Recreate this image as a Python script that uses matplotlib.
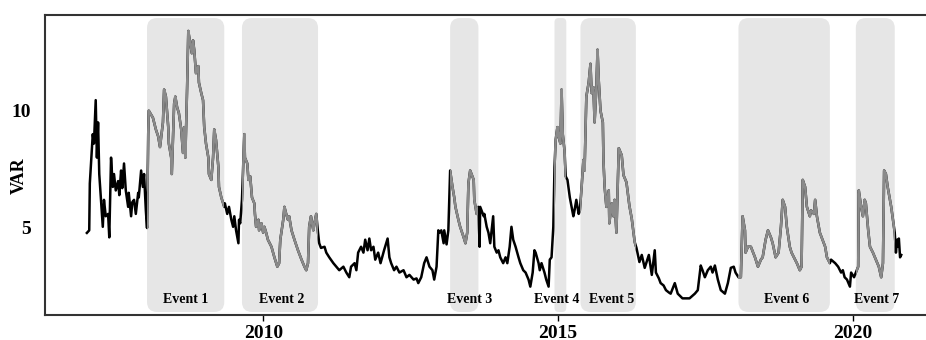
import matplotlib
matplotlib.use("Agg")
import matplotlib.pyplot as plt
from matplotlib.patches import FancyBboxPatch, Rectangle

plt.rcParams["font.family"] = ["Liberation Serif", "DejaVu Serif"]
plt.rcParams["font.weight"] = "bold"

# decimal year / VAR level
t = [
    2007.01, 2007.05, 2007.06, 2007.11, 2007.13, 2007.16, 2007.18, 2007.20, 2007.22, 2007.25,
    2007.28, 2007.30, 2007.33, 2007.37, 2007.39, 2007.42, 2007.45, 2007.47, 2007.50, 2007.54,
    2007.56, 2007.59, 2007.61, 2007.64, 2007.67, 2007.71, 2007.72, 2007.76, 2007.78, 2007.81,
    2007.84, 2007.88, 2007.89, 2007.93, 2007.96, 2007.98, 2008.01, 2008.03, 2008.05, 2008.06,
    2008.13, 2008.18, 2008.22, 2008.25, 2008.30, 2008.32, 2008.35, 2008.39, 2008.40, 2008.44,
    2008.45, 2008.49, 2008.51, 2008.54, 2008.57, 2008.61, 2008.64, 2008.66, 2008.68, 2008.69,
    2008.71, 2008.73, 2008.76, 2008.79, 2008.81, 2008.83, 2008.86, 2008.90, 2008.91, 2008.95,
    2008.98, 2009.00, 2009.03, 2009.07, 2009.08, 2009.12, 2009.15, 2009.17, 2009.20, 2009.24,
    2009.25, 2009.29, 2009.34, 2009.35, 2009.39, 2009.42, 2009.46, 2009.49, 2009.51, 2009.54,
    2009.58, 2009.59, 2009.61, 2009.63, 2009.64, 2009.68, 2009.69, 2009.73, 2009.75, 2009.78,
    2009.81, 2009.85, 2009.86, 2009.88, 2009.92, 2009.93, 2009.97, 2010.00, 2010.02, 2010.05,
    2010.08, 2010.14, 2010.19, 2010.24, 2010.27, 2010.29, 2010.34, 2010.36, 2010.39, 2010.42,
    2010.44, 2010.48, 2010.53, 2010.59, 2010.65, 2010.70, 2010.73, 2010.76, 2010.78, 2010.81,
    2010.85, 2010.87, 2010.90, 2010.93, 2010.95, 2010.98, 2011.04, 2011.07, 2011.12, 2011.19,
    2011.24, 2011.29, 2011.36, 2011.41, 2011.46, 2011.49, 2011.55, 2011.58, 2011.61, 2011.66,
    2011.70, 2011.73, 2011.77, 2011.80, 2011.83, 2011.87, 2011.90, 2011.95, 2011.99, 2012.04,
    2012.05, 2012.11, 2012.14, 2012.17, 2012.22, 2012.26, 2012.31, 2012.38, 2012.43, 2012.48,
    2012.55, 2012.60, 2012.63, 2012.68, 2012.73, 2012.77, 2012.82, 2012.87, 2012.90, 2012.94,
    2012.97, 2012.99, 2013.02, 2013.06, 2013.07, 2013.11, 2013.14, 2013.17, 2013.21, 2013.24,
    2013.26, 2013.31, 2013.34, 2013.40, 2013.43, 2013.46, 2013.48, 2013.51, 2013.57, 2013.58,
    2013.62, 2013.65, 2013.67, 2013.68, 2013.74, 2013.75, 2013.79, 2013.82, 2013.85, 2013.90,
    2013.92, 2013.96, 2013.99, 2014.02, 2014.07, 2014.11, 2014.14, 2014.18, 2014.21, 2014.24,
    2014.28, 2014.33, 2014.36, 2014.41, 2014.45, 2014.50, 2014.53, 2014.57, 2014.60, 2014.62,
    2014.67, 2014.69, 2014.72, 2014.77, 2014.80, 2014.84, 2014.86, 2014.89, 2014.92, 2014.94,
    2014.96, 2014.99, 2015.01, 2015.04, 2015.06, 2015.08, 2015.11, 2015.13, 2015.16, 2015.20,
    2015.23, 2015.26, 2015.28, 2015.31, 2015.35, 2015.37, 2015.40, 2015.43, 2015.45, 2015.48,
    2015.52, 2015.55, 2015.57, 2015.60, 2015.62, 2015.65, 2015.67, 2015.69, 2015.72, 2015.76,
    2015.77, 2015.79, 2015.82, 2015.86, 2015.87, 2015.91, 2015.94, 2015.96, 2015.99, 2016.03,
    2016.08, 2016.11, 2016.16, 2016.21, 2016.25, 2016.30, 2016.33, 2016.38, 2016.42, 2016.47,
    2016.54, 2016.59, 2016.64, 2016.66, 2016.71, 2016.74, 2016.79, 2016.83, 2016.88, 2016.91,
    2016.98, 2017.03, 2017.11, 2017.15, 2017.23, 2017.32, 2017.37, 2017.42, 2017.45, 2017.49,
    2017.54, 2017.59, 2017.62, 2017.66, 2017.71, 2017.76, 2017.83, 2017.88, 2017.93, 2017.98,
    2018.01, 2018.06, 2018.10, 2018.13, 2018.17, 2018.18, 2018.22, 2018.27, 2018.34, 2018.39,
    2018.44, 2018.47, 2018.52, 2018.56, 2018.61, 2018.64, 2018.69, 2018.74, 2018.78, 2018.81,
    2018.85, 2018.88, 2018.93, 2018.96, 2019.02, 2019.05, 2019.10, 2019.13, 2019.15, 2019.19,
    2019.22, 2019.27, 2019.29, 2019.34, 2019.36, 2019.39, 2019.44, 2019.47, 2019.53, 2019.56,
    2019.61, 2019.63, 2019.70, 2019.75, 2019.80, 2019.83, 2019.86, 2019.90, 2019.95, 2019.97,
    2020.02, 2020.05, 2020.09, 2020.10, 2020.14, 2020.17, 2020.20, 2020.22, 2020.26, 2020.29,
    2020.34, 2020.39, 2020.44, 2020.48, 2020.51, 2020.53, 2020.56, 2020.59, 2020.65, 2020.68,
    2020.71, 2020.73, 2020.75, 2020.76, 2020.78, 2020.80, 2020.82,
]
var = [
    4.79, 4.90, 6.90, 9.00, 8.60, 10.45, 8.00, 9.50, 7.30, 6.20,
    5.05, 6.20, 5.50, 5.60, 4.60, 8.00, 6.75, 7.30, 6.60, 7.00,
    6.40, 7.45, 6.70, 7.75, 6.60, 5.90, 6.50, 5.50, 6.10, 6.20,
    5.60, 6.50, 6.30, 7.45, 6.75, 7.30, 5.75, 5.00, 9.00, 10.00,
    9.70, 9.20, 8.90, 8.45, 9.50, 10.90, 10.60, 9.30, 8.60, 8.00,
    7.30, 10.30, 10.60, 10.15, 9.90, 9.20, 8.20, 9.30, 8.00, 9.00,
    11.00, 13.40, 12.90, 12.45, 13.00, 12.60, 11.60, 11.90, 11.20, 10.75,
    10.45, 9.30, 8.60, 8.00, 7.30, 7.05, 8.00, 9.20, 8.75, 7.60,
    6.75, 6.30, 5.90, 6.05, 5.60, 5.90, 5.35, 5.05, 5.50, 4.90,
    4.35, 5.35, 5.20, 5.90, 6.20, 9.00, 8.00, 7.75, 7.05, 7.20,
    6.30, 6.05, 5.60, 5.05, 5.35, 4.90, 5.20, 4.80, 5.05, 4.80,
    4.50, 4.20, 3.75, 3.35, 3.50, 4.50, 5.35, 5.90, 5.60, 5.35,
    5.50, 4.90, 4.50, 4.05, 3.65, 3.35, 3.20, 3.50, 5.05, 5.50,
    4.90, 5.20, 5.60, 4.80, 4.35, 4.15, 4.20, 3.95, 3.75, 3.50,
    3.35, 3.20, 3.35, 3.10, 2.90, 3.35, 3.50, 3.20, 3.95, 4.20,
    3.95, 4.50, 4.05, 4.55, 4.05, 4.20, 3.65, 3.95, 3.50, 3.95,
    4.05, 4.55, 3.75, 3.50, 3.20, 3.35, 3.10, 3.20, 2.90, 3.00,
    2.80, 2.85, 2.65, 2.90, 3.50, 3.75, 3.35, 3.20, 2.80, 3.35,
    4.90, 4.80, 4.90, 4.35, 4.90, 4.30, 4.90, 7.45, 6.75, 6.30,
    5.90, 5.35, 5.05, 4.60, 4.35, 4.80, 6.90, 7.45, 7.05, 6.20,
    5.60, 5.90, 4.20, 5.90, 5.50, 5.60, 5.05, 4.80, 4.35, 5.50,
    4.20, 3.95, 4.05, 3.75, 3.50, 3.75, 3.50, 4.20, 5.05, 4.50,
    4.20, 3.75, 3.50, 3.20, 3.10, 2.80, 2.50, 3.10, 4.05, 3.95,
    3.50, 3.20, 3.50, 3.10, 2.80, 2.50, 3.65, 3.75, 5.05, 7.60,
    8.75, 9.30, 8.90, 8.60, 10.90, 9.00, 8.30, 7.20, 7.05, 6.30,
    5.90, 5.50, 5.75, 6.20, 5.60, 5.75, 6.75, 7.90, 7.45, 10.60,
    11.20, 12.00, 10.75, 11.00, 9.50, 11.00, 12.60, 11.30, 10.00, 9.50,
    7.90, 6.75, 5.90, 6.60, 5.20, 6.05, 5.50, 6.20, 4.80, 8.40,
    8.10, 7.25, 6.95, 5.95, 5.40, 4.40, 4.15, 3.55, 3.85, 3.30,
    3.85, 3.00, 4.05, 3.10, 2.85, 2.65, 2.55, 2.35, 2.25, 2.20,
    2.65, 2.20, 2.00, 2.00, 2.00, 2.20, 2.35, 3.40, 3.20, 2.90,
    3.20, 3.35, 3.10, 3.40, 2.80, 2.35, 2.20, 2.65, 3.30, 3.35,
    3.10, 2.90, 2.90, 5.50, 4.90, 3.95, 4.20, 4.20, 3.75, 3.35,
    3.65, 3.75, 4.50, 4.90, 4.60, 4.35, 3.75, 3.95, 5.05, 6.20,
    5.90, 5.05, 4.20, 3.95, 3.65, 3.50, 3.20, 3.35, 7.05, 6.75,
    5.90, 5.50, 5.75, 5.60, 6.20, 5.50, 4.80, 4.60, 4.20, 3.75,
    3.50, 3.65, 3.50, 3.35, 3.10, 3.20, 2.90, 2.80, 2.50, 3.10,
    2.90, 3.10, 3.35, 6.60, 5.90, 5.50, 6.20, 6.05, 4.90, 4.20,
    3.95, 3.65, 3.35, 2.90, 3.50, 7.45, 7.30, 6.75, 5.90, 5.35,
    4.80, 3.95, 4.50, 4.20, 4.55, 3.75, 3.85,
]

event_names = ["Event 1", "Event 2", "Event 3", "Event 4", "Event 5", "Event 6", "Event 7"]
event_start = [2008.03, 2009.64, 2013.17, 2014.94, 2015.38, 2018.06, 2020.05]
event_end = [2009.34, 2010.93, 2013.65, 2015.14, 2016.32, 2019.61, 2020.71]
label_x = [2008.69, 2010.31, 2013.50, 2014.98, 2015.91, 2018.88, 2020.41]

SHADE, GREY = "#e6e6e6", "#8a8a8a"
Y_LO, Y_HI = 1.29, 14.08
BOX_LO, BOX_HI = 1.42, 13.95

fig = plt.figure(figsize=(9.26, 3.40), dpi=100)
ax = fig.add_axes([0.0486, 0.0735, 0.9514, 0.8824])
ax.set_xlim(2006.30, 2021.24)
ax.set_ylim(Y_LO, Y_HI)

# shaded event windows with rounded corners
for name, x0, x1, lx in zip(event_names, event_start, event_end, label_x):
    w = x1 - x0
    r = min(0.17, w * 0.35)
    box = FancyBboxPatch((x0, BOX_LO), w, BOX_HI - BOX_LO,
                         boxstyle=f"round,pad=0,rounding_size={r}",
                         mutation_aspect=2.5, fc=SHADE, ec="none", zorder=0)
    ax.add_patch(box)
    ax.text(lx, 0.052, name, transform=ax.get_xaxis_transform(),
            ha="center", va="center", fontsize=10, fontweight="bold", zorder=3)

# series in black, repainted grey inside each event window
ax.plot(t, var, color="black", lw=1.8, zorder=1)
for x0, x1 in zip(event_start, event_end):
    clip = Rectangle((x0, Y_LO), x1 - x0, Y_HI - Y_LO, transform=ax.transData)
    ln, = ax.plot(t, var, color=GREY, lw=1.8, zorder=2)
    ln.set_clip_path(clip)

ax.set_xticks([2010, 2015, 2020])
ax.set_yticks([5, 10])
ax.tick_params(axis="x", direction="out", length=4, width=1, pad=3, labelsize=14)
ax.tick_params(axis="y", length=0, pad=10, labelsize=14)
ax.set_ylabel("VAR", fontsize=13, fontweight="bold")
ax.yaxis.set_label_coords(-0.019, 0.463)

for side in ("left", "top", "bottom"):
    ax.spines[side].set_color("#333333")
    ax.spines[side].set_linewidth(1.5)
ax.spines["right"].set_visible(False)

fig.savefig("out.png", dpi=100)
